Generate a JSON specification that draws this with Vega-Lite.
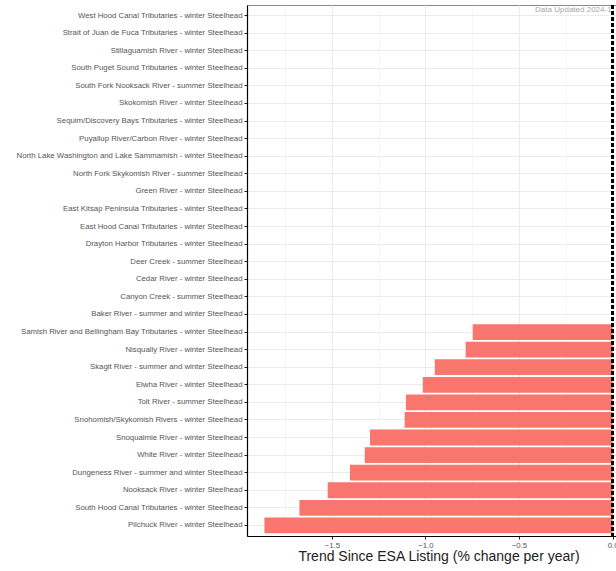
{
  "$schema": "https://vega.github.io/schema/vega-lite/v6.json",
  "autosize": {"type": "none"},
  "width": 383,
  "height": 531,
  "padding": {"left": 247, "top": 5, "right": 0, "bottom": 35},
  "background": "white",
  "config": {
    "font": "Liberation Sans",
    "view": {"stroke": "#8a8a8a", "strokeWidth": 1},
    "axis": {"labelFont": "Liberation Sans", "titleFont": "Liberation Sans"}
  },
  "data": {"values": [
    {"population": "West Hood Canal Tributaries - winter Steelhead", "trend": null},
    {"population": "Strait of Juan de Fuca Tributaries - winter Steelhead", "trend": null},
    {"population": "Stillaguamish River - winter Steelhead", "trend": null},
    {"population": "South Puget Sound Tributaries - winter Steelhead", "trend": null},
    {"population": "South Fork Nooksack River - summer Steelhead", "trend": null},
    {"population": "Skokomish River - winter Steelhead", "trend": null},
    {"population": "Sequim/Discovery Bays Tributaries - winter Steelhead", "trend": null},
    {"population": "Puyallup River/Carbon River - winter Steelhead", "trend": null},
    {"population": "North Lake Washington and Lake Sammamish - winter Steelhead", "trend": null},
    {"population": "North Fork Skykomish River - summer Steelhead", "trend": null},
    {"population": "Green River - winter Steelhead", "trend": null},
    {"population": "East Kitsap Peninsula Tributaries - winter Steelhead", "trend": null},
    {"population": "East Hood Canal Tributaries - winter Steelhead", "trend": null},
    {"population": "Drayton Harbor Tributaries - winter Steelhead", "trend": null},
    {"population": "Deer Creek - summer Steelhead", "trend": null},
    {"population": "Cedar River - winter Steelhead", "trend": null},
    {"population": "Canyon Creek - summer Steelhead", "trend": null},
    {"population": "Baker River - summer and winter Steelhead", "trend": null},
    {"population": "Samish River and Bellingham Bay Tributaries - winter Steelhead", "trend": -0.747},
    {"population": "Nisqually River - winter Steelhead", "trend": -0.785},
    {"population": "Skagit River - summer and winter Steelhead", "trend": -0.950},
    {"population": "Elwha River - winter Steelhead", "trend": -1.014},
    {"population": "Tolt River - summer Steelhead", "trend": -1.104},
    {"population": "Snohomish/Skykomish Rivers - winter Steelhead", "trend": -1.111},
    {"population": "Snoqualmie River - winter Steelhead", "trend": -1.296},
    {"population": "White River - winter Steelhead", "trend": -1.324},
    {"population": "Dungeness River - summer and winter Steelhead", "trend": -1.403},
    {"population": "Nooksack River - winter Steelhead", "trend": -1.522},
    {"population": "South Hood Canal Tributaries - winter Steelhead", "trend": -1.673},
    {"population": "Pilchuck River - winter Steelhead", "trend": -1.860}
  ]},
  "layer": [
    {
      "mark": {"type": "rule", "opacity": 0},
      "encoding": {
        "x": {"datum": 0, "type": "quantitative",
          "scale": {"domain": [-1.953, 0.093], "nice": false, "zero": false},
          "axis": {"orient": "bottom", "values": [-1.75, -1.25, -0.75, -0.25], "grid": true, "gridColor": "#f0f0f0", "gridWidth": 0.6, "labels": false, "ticks": false, "domain": false, "title": null}
        }
      }
    },
    {
      "mark": {"type": "bar", "color": "#F8766D"},
      "encoding": {
        "y": {"field": "population", "type": "nominal", "sort": null,
          "scale": {"paddingInner": 0.1, "paddingOuter": 0.15, "domain": [
            "West Hood Canal Tributaries - winter Steelhead",
            "Strait of Juan de Fuca Tributaries - winter Steelhead",
            "Stillaguamish River - winter Steelhead",
            "South Puget Sound Tributaries - winter Steelhead",
            "South Fork Nooksack River - summer Steelhead",
            "Skokomish River - winter Steelhead",
            "Sequim/Discovery Bays Tributaries - winter Steelhead",
            "Puyallup River/Carbon River - winter Steelhead",
            "North Lake Washington and Lake Sammamish - winter Steelhead",
            "North Fork Skykomish River - summer Steelhead",
            "Green River - winter Steelhead",
            "East Kitsap Peninsula Tributaries - winter Steelhead",
            "East Hood Canal Tributaries - winter Steelhead",
            "Drayton Harbor Tributaries - winter Steelhead",
            "Deer Creek - summer Steelhead",
            "Cedar River - winter Steelhead",
            "Canyon Creek - summer Steelhead",
            "Baker River - summer and winter Steelhead",
            "Samish River and Bellingham Bay Tributaries - winter Steelhead",
            "Nisqually River - winter Steelhead",
            "Skagit River - summer and winter Steelhead",
            "Elwha River - winter Steelhead",
            "Tolt River - summer Steelhead",
            "Snohomish/Skykomish Rivers - winter Steelhead",
            "Snoqualmie River - winter Steelhead",
            "White River - winter Steelhead",
            "Dungeness River - summer and winter Steelhead",
            "Nooksack River - winter Steelhead",
            "South Hood Canal Tributaries - winter Steelhead",
            "Pilchuck River - winter Steelhead"
          ]},
          "axis": {"title": null, "bandPosition": 0.5, "grid": true, "gridColor": "#ebebeb", "gridWidth": 1,
            "labelFontSize": 7.8, "labelColor": "#555555", "labelPadding": 2, "labelLimit": 400,
            "tickSize": 3, "tickColor": "#222", "domainColor": "#000", "domainWidth": 1.2}
        },
        "x": {"field": "trend", "type": "quantitative",
          "scale": {"domain": [-1.953, 0.093], "nice": false, "zero": false},
          "axis": {"orient": "bottom", "values": [-1.5, -1.0, -0.5, 0.0], "format": ".1f", "grid": true, "gridColor": "#ebebeb", "gridWidth": 1,
            "labelFontSize": 7.8, "labelColor": "#555555", "labelPadding": 2, "tickSize": 3, "tickColor": "#222",
            "domainColor": "#000", "domainWidth": 1.2,
            "title": "Trend Since ESA Listing (% change per year)", "titleFontSize": 14, "titleFontWeight": "normal", "titleColor": "#222", "titlePadding": 1}
        },
        "x2": {"datum": 0}
      }
    },
    {
      "mark": {"type": "rule", "color": "#000", "strokeDash": [4, 2], "strokeWidth": 1.6},
      "encoding": {"x": {"datum": 0, "axis": null}}
    },
    {
      "data": {"values": [{"note": "Data Updated 2024-1"}]},
      "mark": {"type": "text", "align": "right", "baseline": "middle", "dy": -6, "dx": -1, "fontSize": 8, "color": "#a6a6a6"},
      "encoding": {
        "x": {"datum": 0, "axis": null},
        "y": {"datum": "West Hood Canal Tributaries - winter Steelhead"},
        "text": {"field": "note"}
      }
    }
  ],
  "resolve": {"axis": {"x": "independent"}}
}
